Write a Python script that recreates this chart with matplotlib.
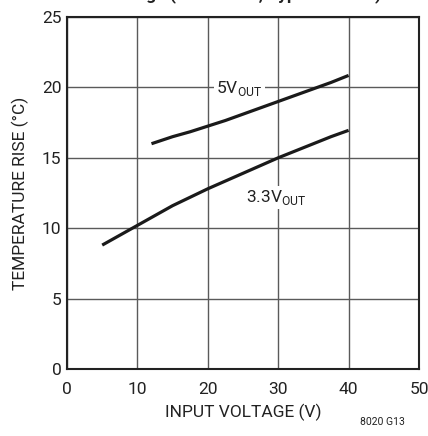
import matplotlib
matplotlib.use("Agg")
import matplotlib.pyplot as plt

plt.rcParams["font.family"] = ["Roboto", "DejaVu Sans"]

# temperature rise vs input voltage
vin_33 = [5, 7.5, 10, 12.5, 15, 17.5, 20, 22.5, 25, 27.5, 30, 32.5, 35, 37.5, 40]
rise_33 = [8.8, 9.5, 10.2, 10.9, 11.6, 12.2, 12.8, 13.35, 13.9, 14.45, 15.0, 15.5,
           16.0, 16.5, 16.95]
vin_5 = [12, 15, 17.5, 20, 22.5, 25, 27.5, 30, 32.5, 35, 37.5, 40]
rise_5 = [16.0, 16.5, 16.85, 17.25, 17.65, 18.1, 18.55, 19.0, 19.45, 19.9, 20.35, 20.85]

x_ticks = [0, 10, 20, 30, 40, 50]
y_ticks = [0, 5, 10, 15, 20, 25]

fig = plt.figure(figsize=(4.28, 4.36), dpi=100)
ax = fig.add_axes([67 / 428, 1 - 369 / 436, 352 / 428, 352 / 436])

for xs, ys in [(vin_33, rise_33), (vin_5, rise_5)]:
    ax.plot(xs, ys, color="#1a1a1a", lw=2.3, solid_capstyle="butt",
            solid_joinstyle="round", zorder=3)

ax.set_xlim(0, 50)
ax.set_ylim(0, 25)
ax.set_xticks(x_ticks)
ax.set_yticks(y_ticks)
ax.grid(True, color="#5a5a5a", lw=1.0)
ax.set_axisbelow(True)
ax.tick_params(length=0, labelsize=12.5, colors="#222222")
ax.tick_params(axis="x", pad=9)
ax.tick_params(axis="y", pad=4)
for s in ax.spines.values():
    s.set_linewidth(1.5)
    s.set_color("#222222")

ax.set_xlabel("INPUT VOLTAGE (V)", fontsize=12.5, color="#222222", labelpad=5)
ax.set_ylabel("TEMPERATURE RISE (°C)", fontsize=12.5, color="#222222", labelpad=9)

ax.text(24.5, 19.95, r"5V$_{\mathregular{OUT}}$", fontsize=12.5, ha="center", va="center",
        color="#222222", bbox=dict(fc="white", ec="none", pad=1.5), zorder=4)
ax.text(29.7, 12.2, r"3.3V$_{\mathregular{OUT}}$", fontsize=12.5, ha="center", va="center",
        color="#222222", bbox=dict(fc="white", ec="none", pad=1.5), zorder=4)

fig.text(405 / 428, 1 - 422 / 436, "8020 G13", fontsize=7.5, ha="right", va="center",
         color="#222222")
# title sits above the visible area, only its descenders show
fig.text(243 / 428, 1 + 1 / 436, "Voltage (No Airflow, Typical Board)", fontsize=12.5,
         fontweight="bold", ha="center", va="baseline", color="#222222")

fig.savefig("out.png", dpi=100)
